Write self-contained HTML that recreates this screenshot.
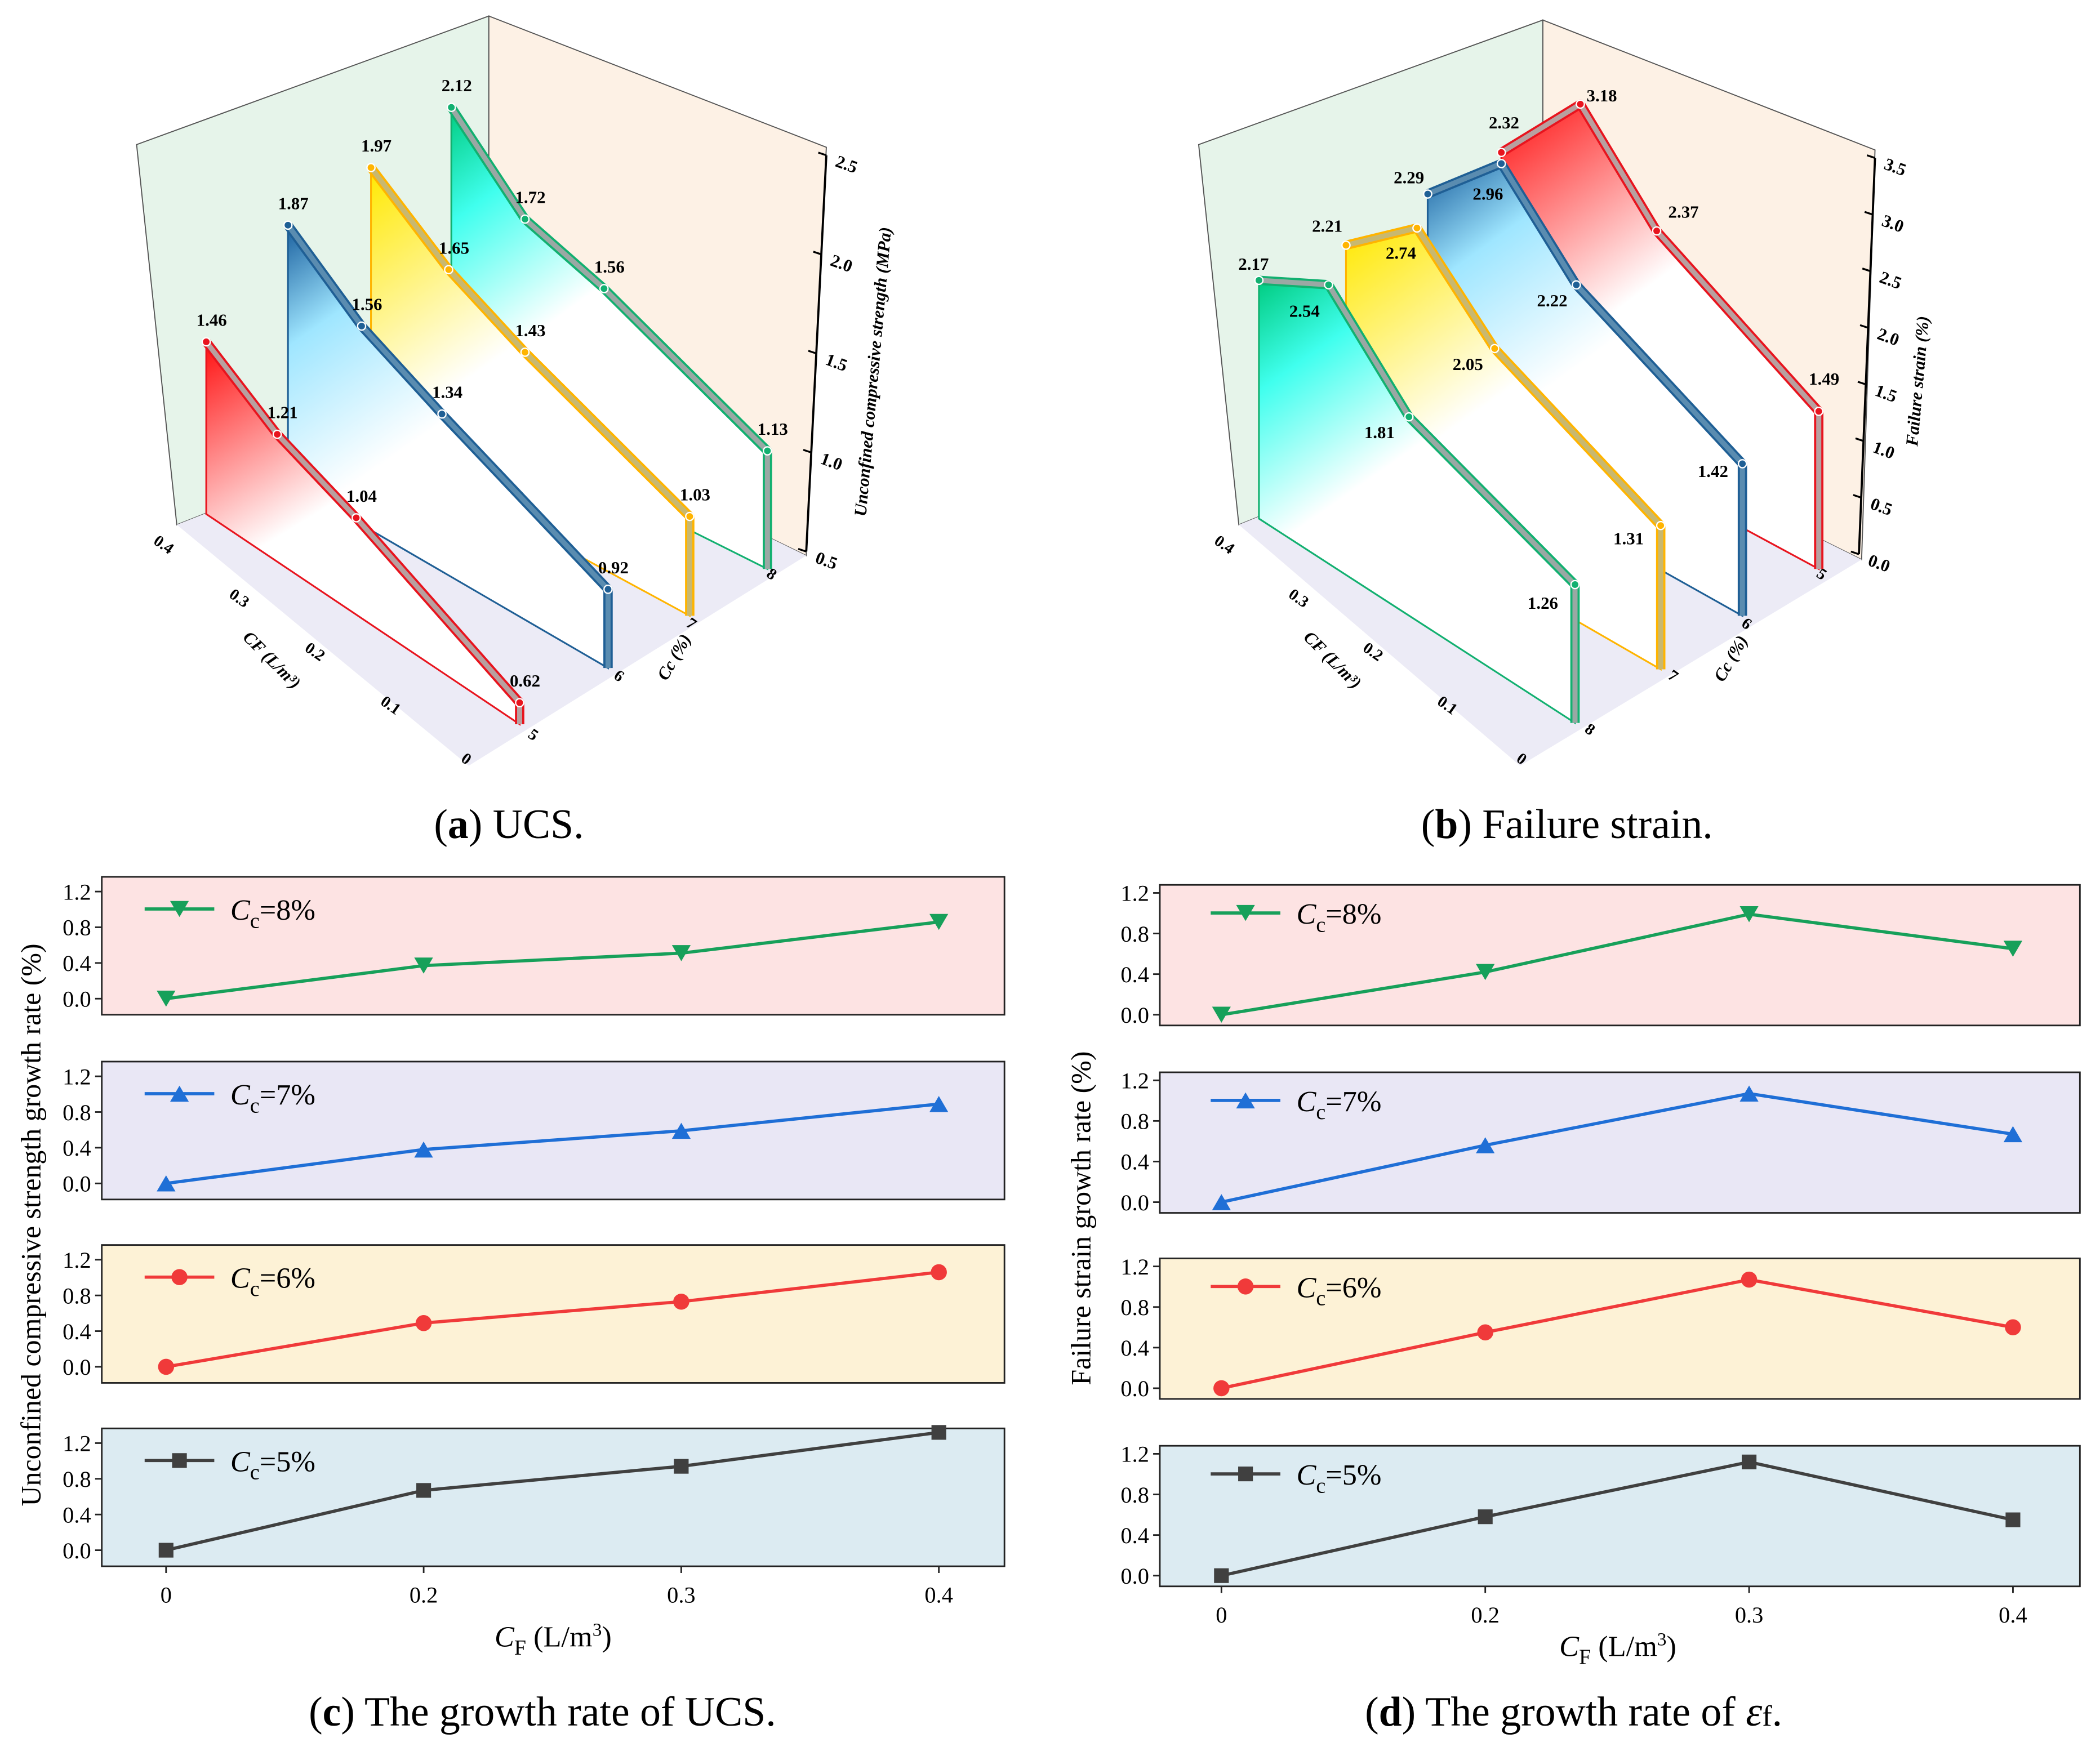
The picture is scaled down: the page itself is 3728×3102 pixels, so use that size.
<!DOCTYPE html>
<html><head><meta charset="utf-8"><style>
html,body{margin:0;padding:0;background:#fff}
svg{display:block}
text{font-family:"Liberation Serif",serif}
</style></head><body>
<svg id="fig" xmlns="http://www.w3.org/2000/svg" width="3728" height="3102" viewBox="0 0 1568 1305" preserveAspectRatio="none">
<defs>
<linearGradient id="gRed" x1="0" y1="0" x2="0.5" y2="1"><stop offset="0" stop-color="#ff1010"/><stop offset="0.5" stop-color="#ffffff"/></linearGradient>
<linearGradient id="gBlue" x1="0" y1="0" x2="0.5" y2="1"><stop offset="0" stop-color="#1a5f9e"/><stop offset="0.22" stop-color="#9fe6ff"/><stop offset="0.55" stop-color="#ffffff"/></linearGradient>
<linearGradient id="gYel" x1="0" y1="0" x2="0.5" y2="1"><stop offset="0" stop-color="#ffe800"/><stop offset="0.5" stop-color="#ffffff"/></linearGradient>
<linearGradient id="gGrn" x1="0" y1="0" x2="0.5" y2="1"><stop offset="0" stop-color="#00cc80"/><stop offset="0.2" stop-color="#40ffee"/><stop offset="0.5" stop-color="#ffffff"/></linearGradient>
</defs>
<g id="pa"></g>
<g id="pb"></g>
<g id="pc"></g>
<g id="pd"></g>
<text x="380" y="626" font-size="31" text-anchor="middle">(<tspan font-weight="bold">a</tspan>) UCS.</text>
<text x="1170" y="626" font-size="31" text-anchor="middle">(<tspan font-weight="bold">b</tspan>) Failure strain.</text>
<text x="405" y="1289" font-size="31" text-anchor="middle">(<tspan font-weight="bold">c</tspan>) The growth rate of UCS.</text>
<text x="1175" y="1289" font-size="31" text-anchor="middle">(<tspan font-weight="bold">d</tspan>) The growth rate of <tspan font-style="italic">ε</tspan><tspan font-size="22">f</tspan>.</text>
</svg>
<script>
// ---- data ----
const cfCategories = ["0", "0.2", "0.3", "0.4"];
const ccLabels = ["8%", "7%", "6%", "5%"];
const ucsCc8 = [2.12, 1.72, 1.56, 1.13];
const ucsCc7 = [1.97, 1.65, 1.43, 1.03];
const ucsCc6 = [1.87, 1.56, 1.34, 0.92];
const ucsCc5 = [1.46, 1.21, 1.04, 0.62];
const strainCc8 = [2.17, 2.54, 1.81, 1.26];
const strainCc7 = [2.21, 2.74, 2.05, 1.31];
const strainCc6 = [2.29, 2.96, 2.22, 1.42];
const strainCc5 = [2.32, 3.18, 2.37, 1.49];
const ucsRate8 = [0, 0.37, 0.51, 0.86];
const ucsRate7 = [0, 0.38, 0.59, 0.89];
const ucsRate6 = [0, 0.49, 0.73, 1.06];
const ucsRate5 = [0, 0.67, 0.94, 1.32];
const strRate8 = [0, 0.42, 0.99, 0.65];
const strRate7 = [0, 0.56, 1.07, 0.67];
const strRate6 = [0, 0.55, 1.07, 0.60];
const strRate5 = [0, 0.58, 1.12, 0.55];
const yTicks = [0.0, 0.4, 0.8, 1.2];
const ucsAxisTicks = ["2.5", "2.0", "1.5", "1.0", "0.5"];
const strainAxisTicks = ["3.5", "3.0", "2.5", "2.0", "1.5", "1.0", "0.5", "0.0"];
const cfAxisTicks = ["0.4", "0.3", "0.2", "0.1", "0"];

const NS = "http://www.w3.org/2000/svg";
function mk(parent, tag, attrs, txt) {
  const e = document.createElementNS(NS, tag);
  for (const k in attrs) e.setAttribute(k, attrs[k]);
  if (txt !== undefined) e.textContent = txt;
  parent.appendChild(e);
  return e;
}
function pts(a) { return a.map(p => p[0].toFixed(1) + "," + p[1].toFixed(1)).join(" "); }

// ---- 3D panels ----
function draw3D(g, cfg) {
  let e;
  e = mk(g, "polygon", { points: pts(cfg.leftWall), fill: "#e6f4ea", stroke: "#555", "stroke-width": 0.8 });
  
  
  e = mk(g, "polygon", { points: pts(cfg.rightWall), fill: "#fdf1e5", stroke: "#555", "stroke-width": 0.8 });
  
  
  e = mk(g, "polygon", { points: pts(cfg.floor), fill: "#ecebf6", stroke: "none" });
  
  
  e = mk(g, "line", { x1: cfg.axis[0][0], y1: cfg.axis[0][1], x2: cfg.axis[1][0], y2: cfg.axis[1][1], stroke: "#000", "stroke-width": 1.6 });
  
  
  cfg.axisTicks.forEach((t, i) => {
    const f = i / (cfg.axisTicks.length - 1);
    const x = cfg.axis[0][0] + (cfg.axis[1][0] - cfg.axis[0][0]) * f;
    const y = cfg.axis[0][1] + (cfg.axis[1][1] - cfg.axis[0][1]) * f;
    mk(g, "line", { x1: x - 6, y1: y - 2, x2: x, y2: y, stroke: "#000", "stroke-width": 1.4 });
    const tx = mk(g, "text", { x: x + 6, y: y + 8, "font-size": 13, "font-weight": "bold", transform: `rotate(20 ${x + 6} ${y + 8})` }, t);
    
    
  });
  e = mk(g, "text", { x: cfg.axisTitle[0], y: cfg.axisTitle[1], "font-size": 13, "font-weight": "bold", "font-style": "italic", "text-anchor": "middle", transform: `rotate(-85 ${cfg.axisTitle[0]} ${cfg.axisTitle[1]})` }, cfg.axisTitleText);
  
  
  cfAxisTicks.forEach((t, i) => {
    const f = i / (cfAxisTicks.length - 1);
    const x = cfg.cfAxis[0][0] + (cfg.cfAxis[1][0] - cfg.cfAxis[0][0]) * f;
    const y = cfg.cfAxis[0][1] + (cfg.cfAxis[1][1] - cfg.cfAxis[0][1]) * f;
    const tx = mk(g, "text", { x: x, y: y, "font-size": 12, "font-weight": "bold", "text-anchor": "middle", transform: `rotate(35 ${x} ${y})` }, t);
    
    
  });
  e = mk(g, "text", { x: cfg.cfTitle[0], y: cfg.cfTitle[1], "font-size": 13, "font-weight": "bold", "font-style": "italic", "text-anchor": "middle", transform: `rotate(45 ${cfg.cfTitle[0]} ${cfg.cfTitle[1]})` }, "CF (L/m³)");
  
  
  cfg.ccTicks.forEach(c => {
    const tx = mk(g, "text", { x: c[0], y: c[1], "font-size": 12, "font-weight": "bold", "text-anchor": "middle", transform: `rotate(35 ${c[0]} ${c[1]})` }, c[2]);
    
    
  });
  e = mk(g, "text", { x: cfg.ccTitle[0], y: cfg.ccTitle[1], "font-size": 13, "font-weight": "bold", "font-style": "italic", "text-anchor": "middle", transform: `rotate(-60 ${cfg.ccTitle[0]} ${cfg.ccTitle[1]})` }, "Cc (%)");
  
  

  cfg.series.forEach(s => {
    const sg = mk(g, "g", {});
    
    
    const floorY = x => s.floor[0][1] + (s.floor[1][1] - s.floor[0][1]) * (x - s.floor[0][0]) / (s.floor[1][0] - s.floor[0][0]);
    const P = s.values.map((v, i) => [s.xs[i], floorY(s.xs[i]) - s.k * (v - cfg.v0)]);
    const last = s.xs[s.xs.length - 1];
    const poly = P.concat([[last, floorY(last)], [s.xs[0], floorY(s.xs[0])]]);
    const area = mk(sg, "polygon", { points: pts(poly), fill: s.grad, stroke: s.color, "stroke-width": 1.3 });
    
    
    const top = P.concat([[last, floorY(last)]]);
    mk(sg, "polyline", { points: pts(top), fill: "none", stroke: s.color, "stroke-width": 7, "stroke-linejoin": "round" });
    mk(sg, "polyline", { points: pts(top), fill: "none", stroke: s.edge, "stroke-width": 3.8, "stroke-linejoin": "round" });
    P.forEach((p, i) => {
      const c = mk(sg, "circle", { cx: p[0], cy: p[1], r: 3, fill: s.color, stroke: "#fff", "stroke-width": 1 });
      
      
      const off = (s.labelOff && s.labelOff[i]) || [4, -12];
      const t = mk(sg, "text", { x: p[0] + off[0], y: p[1] + off[1], "font-size": 13, "font-weight": "bold", "text-anchor": "middle" }, s.values[i].toFixed(2));
      
      
    });
  });
}

draw3D(document.getElementById("pa"), {
  v0: 0.5,
  leftWall: [[102, 108], [365, 12], [365, 300], [132, 392]],
  rightWall: [[365, 12], [617, 110], [602, 415], [365, 300]],
  floor: [[132, 392], [365, 300], [602, 415], [350, 572]],
  axis: [[617, 116], [602, 412]],
  axisTicks: ucsAxisTicks,
  axisTitle: [656, 278], axisTitleText: "Unconfined compressive strength (MPa)",
  cfAxis: [[120, 410], [346, 570]],
  cfTitle: [200, 496],
  ccTicks: [[396, 552, "5"], [460, 508, "6"], [514, 469, "7"], [574, 432, "8"]],
  ccTitle: [507, 493],
  series: [
    { name: "cc8", values: ucsCc8, xs: [337, 392, 451, 573], floor: [[337, 307], [573, 425]], k: 140, color: "#12b070", edge: "#9aa8a4", grad: "url(#gGrn)" },
    { name: "cc7", values: ucsCc7, xs: [277, 335, 392, 515], floor: [[277, 331], [515, 460]], k: 140, color: "#ffb400", edge: "#c8b870", grad: "url(#gYel)" },
    { name: "cc6", values: ucsCc6, xs: [215, 270, 330, 454], floor: [[215, 360], [454, 499]], k: 140, color: "#1f5f95", edge: "#5a8cb0", grad: "url(#gBlue)" },
    { name: "cc5", values: ucsCc5, xs: [154, 207, 266, 388], floor: [[154, 384], [388, 541]], k: 134, color: "#e8141e", edge: "#b8a0a0", grad: "url(#gRed)" }
  ]
});

draw3D(document.getElementById("pb"), {
  v0: 0,
  leftWall: [[895, 108], [1152, 15], [1152, 300], [925, 392]],
  rightWall: [[1152, 15], [1400, 112], [1390, 418], [1152, 300]],
  floor: [[925, 392], [1152, 300], [1390, 418], [1135, 572]],
  axis: [[1400, 118], [1388, 414]],
  axisTicks: strainAxisTicks,
  axisTitle: [1436, 285], axisTitleText: "Failure strain (%)",
  cfAxis: [[912, 410], [1134, 570]],
  cfTitle: [992, 496],
  ccTicks: [[1185, 548, "8"], [1247, 508, "7"], [1302, 469, "6"], [1358, 432, "5"]],
  ccTitle: [1296, 494],
  series: [
    { name: "cc5", values: strainCc5, xs: [1121, 1180, 1237, 1358], floor: [[1180, 329], [1358, 425]], k: 79, color: "#e8141e", edge: "#b8a0a0", grad: "url(#gRed)", labelOff: [[2, -18], [16, -2], [20, -10], [4, -20]] },
    { name: "cc6", values: strainCc6, xs: [1066, 1121, 1177, 1301], floor: [[1121, 359], [1301, 460]], k: 80, color: "#1f5f95", edge: "#5a8cb0", grad: "url(#gBlue)", labelOff: [[-14, -8], [-10, 27], [-18, 16], [-22, 10]] },
    { name: "cc7", values: strainCc7, xs: [1005, 1058, 1116, 1240], floor: [[1058, 395], [1240, 500]], k: 82, color: "#ffb400", edge: "#c8b870", grad: "url(#gYel)", labelOff: [[-14, -10], [-12, 23], [-20, 16], [-24, 14]] },
    { name: "cc8", values: strainCc8, xs: [940, 992, 1052, 1176], floor: [[992, 421], [1176, 540]], k: 82, color: "#12b070", edge: "#9aa8a4", grad: "url(#gGrn)", labelOff: [[-4, -8], [-18, 24], [-22, 16], [-24, 18]] }
  ]
});

function sym(g, type, x, y, color, name) {
  let e;
  if (type === "down") e = mk(g, "polygon", { points: pts([[x - 7, y - 6], [x + 7, y - 6], [x, y + 6]]), fill: color });
  else if (type === "up") e = mk(g, "polygon", { points: pts([[x - 7, y + 6], [x + 7, y + 6], [x, y - 6]]), fill: color });
  else if (type === "circle") e = mk(g, "circle", { cx: x, cy: y, r: 6, fill: color });
  else e = mk(g, "rect", { x: x - 5.5, y: y - 5.5, width: 11, height: 11, fill: color });
  
  
}
function drawGrowth(g, cfg) {
  cfg.subs.forEach((s, si) => {
    const T = cfg.tops[si];
    const sg = mk(g, "g", {});
    
    
    const bx = mk(sg, "rect", { x: cfg.x0, y: T, width: cfg.x1 - cfg.x0, height: cfg.h, fill: s.bg, stroke: "#222", "stroke-width": 1.2 });
    
    
    const yS = v => T + cfg.y0off - (cfg.y0off - cfg.y12off) * v / 1.2;
    const xS = i => cfg.xs0 + i * (cfg.xs1 - cfg.xs0) / (cfCategories.length - 1);
    yTicks.forEach(t => {
      const y = yS(t);
      mk(sg, "line", { x1: cfg.x0 - 5, y1: y, x2: cfg.x0, y2: y, stroke: "#222", "stroke-width": 1.2 });
      const tx = mk(sg, "text", { x: cfg.x0 - 8, y: y + 6, "font-size": 17, "text-anchor": "end" }, t.toFixed(1));
      
      
    });
    const P = s.values.map((v, i) => [xS(i), yS(v)]);
    const ln = mk(sg, "polyline", { points: pts(P), fill: "none", stroke: s.color, "stroke-width": 2.4 });
    
    
    P.forEach(p => sym(sg, s.marker, p[0], p[1], s.color, 'data-point'));
    const ly = T + cfg.legY;
    const ll = mk(sg, "line", { x1: cfg.legX, y1: ly, x2: cfg.legX + 52, y2: ly, stroke: s.color, "stroke-width": 2.4 });
    
    
    sym(sg, s.marker, cfg.legX + 26, ly, s.color, 'legend-marker');
    const lt = mk(sg, "text", { x: cfg.legX + 64, y: ly + 8, "font-size": 22 });
    
    
    mk(lt, "tspan", { "font-style": "italic" }, "C");
    mk(lt, "tspan", { "font-size": 16, dy: 6 }, "c");
    mk(lt, "tspan", { dy: -6 }, "=" + s.label);
  });
  const last = cfg.tops[cfg.tops.length - 1] + cfg.h;
  cfCategories.forEach((c, i) => {
    const x = cfg.xs0 + i * (cfg.xs1 - cfg.xs0) / (cfCategories.length - 1);
    mk(g, "line", { x1: x, y1: last, x2: x, y2: last + 5, stroke: "#222", "stroke-width": 1.2 });
    const t = mk(g, "text", { x: x, y: last + 27, "font-size": 17, "text-anchor": "middle" }, c);
    
    
  });
  const xt = mk(g, "text", { x: cfg.xTitle[0], y: cfg.xTitle[1], "font-size": 22, "text-anchor": "middle" });
  
  
  mk(xt, "tspan", { "font-style": "italic" }, "C");
  mk(xt, "tspan", { "font-size": 16, dy: 6 }, "F");
  mk(xt, "tspan", { dy: -6 }, " (L/m");
  mk(xt, "tspan", { "font-size": 14, dy: -8 }, "3");
  mk(xt, "tspan", { dy: 8 }, ")");
  const yt = mk(g, "text", { x: cfg.yTitle[0], y: cfg.yTitle[1], "font-size": 21, "text-anchor": "middle", transform: `rotate(-90 ${cfg.yTitle[0]} ${cfg.yTitle[1]})` }, cfg.yTitleText);
  
  
}

drawGrowth(document.getElementById("pc"), {
  x0: 76, x1: 750, h: 103, tops: [655, 793, 930, 1067], y0off: 91, y12off: 11,
  xs0: 124, xs1: 701, legX: 108, legY: 24,
  xTitle: [413, 1230], yTitle: [30, 915], yTitleText: "Unconfined compressive strength growth rate (%)",
  subs: [
    { label: "8%", values: ucsRate8, color: "#17a05a", marker: "down", bg: "#fde3e3" },
    { label: "7%", values: ucsRate7, color: "#1f6fd6", marker: "up", bg: "#e9e7f5" },
    { label: "6%", values: ucsRate6, color: "#f03a3a", marker: "circle", bg: "#fdf2d6" },
    { label: "5%", values: ucsRate5, color: "#404040", marker: "square", bg: "#dcebf2" }
  ]
});
drawGrowth(document.getElementById("pd"), {
  x0: 866, x1: 1553, h: 105, tops: [661, 801, 940, 1080], y0off: 97, y12off: 6,
  xs0: 912, xs1: 1503, legX: 904, legY: 21,
  xTitle: [1208, 1237], yTitle: [814, 910], yTitleText: "Failure strain growth rate (%)",
  subs: [
    { label: "8%", values: strRate8, color: "#17a05a", marker: "down", bg: "#fde3e3" },
    { label: "7%", values: strRate7, color: "#1f6fd6", marker: "up", bg: "#e9e7f5" },
    { label: "6%", values: strRate6, color: "#f03a3a", marker: "circle", bg: "#fdf2d6" },
    { label: "5%", values: strRate5, color: "#404040", marker: "square", bg: "#dcebf2" }
  ]
});
</script>
</body></html>
